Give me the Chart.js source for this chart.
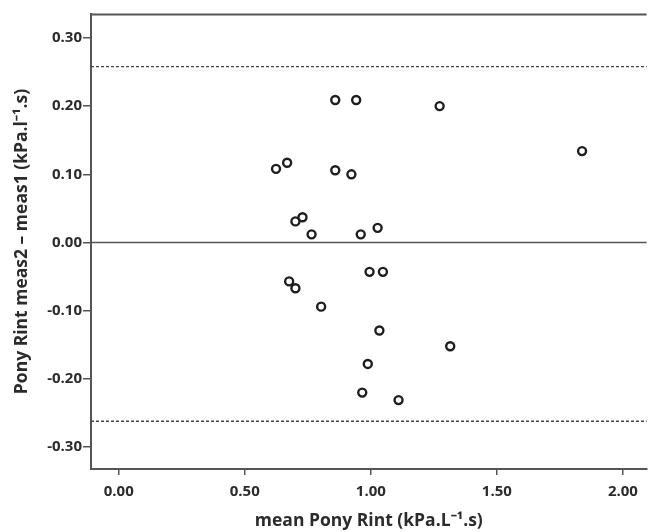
<!DOCTYPE html>
<html>
<head>
<meta charset="utf-8">
<script src="https://cdn.jsdelivr.net/npm/chart.js@4"></script>
<style>
  html, body { margin: 0; padding: 0; background: #fff; }
  #wrap { width: 653px; height: 532px; }
</style>
</head>
<body>
<div id="wrap"><canvas id="blandAltman" width="653" height="532"></canvas></div>
<script>
// Bland-Altman data: mean of the two measurements vs. their difference
const meanRint = [0.859, 0.942, 1.273, 1.838, 0.624, 0.668, 0.859, 0.923, 0.701, 0.729,
                  0.765, 0.960, 1.027, 0.995, 1.048, 0.676, 0.701, 0.803, 1.034, 1.315,
                  0.988, 0.966, 1.110];
const diffRint = [0.209, 0.209, 0.200, 0.134, 0.108, 0.117, 0.106, 0.100, 0.031, 0.037,
                  0.012, 0.012, 0.0215, -0.043, -0.043, -0.057, -0.067, -0.094, -0.129, -0.152,
                  -0.178, -0.220, -0.231];
const xTicks = [0, 0.5, 1.0, 1.5, 2.0];
const yTicks = [-0.3, -0.2, -0.1, 0, 0.1, 0.2, 0.3];
const meanLine = [0];
const limitLines = [0.258, -0.262];

const points = meanRint.map((m, i) => ({ x: m, y: diffRint[i] }));

// Draws the zero line, limits of agreement and the top frame line
const refLines = {
    id: 'refLines',
    beforeDatasetsDraw(chart) {
        const { ctx, chartArea, scales } = chart;
        ctx.save();
        ctx.strokeStyle = '#555';
        ctx.lineWidth = 2;
        ctx.beginPath();
        ctx.moveTo(chartArea.left, chartArea.top + 0.5);
        ctx.lineTo(chartArea.right, chartArea.top + 0.5);
        ctx.stroke();

        ctx.lineWidth = 1.5;
        meanLine.forEach(v => {
            const y = scales.y.getPixelForValue(v);
            ctx.beginPath();
            ctx.moveTo(chartArea.left, y);
            ctx.lineTo(chartArea.right, y);
            ctx.stroke();
        });

        ctx.strokeStyle = '#444';
        ctx.lineWidth = 1.3;
        ctx.setLineDash([3, 2]);
        limitLines.forEach(v => {
            const y = scales.y.getPixelForValue(v);
            ctx.beginPath();
            ctx.moveTo(chartArea.left, y);
            ctx.lineTo(chartArea.right, y);
            ctx.stroke();
        });
        ctx.restore();
    }
};

const tickFont = { family: 'Open Sans', size: 15, weight: 'bold' };
const titleFont = { family: 'Open Sans', size: 17.5, weight: 'bold' };

const ctx = document.getElementById('blandAltman').getContext('2d');
const chart = new Chart(ctx, {
    type: 'scatter',
    data: {
        datasets: [{
            data: points,
            pointStyle: 'circle',
            pointRadius: 4,
            pointHoverRadius: 4,
            pointBorderWidth: 2.4,
            pointBorderColor: '#1e1e1e',
            pointBackgroundColor: '#fff'
        }]
    },
    options: {
        responsive: false,
        animation: false,
        layout: { padding: { top: 14, right: 0, left: 0, bottom: 0 } },
        plugins: {
            legend: { display: false },
            tooltip: { enabled: false }
        },
        scales: {
            x: {
                type: 'linear',
                min: -0.11,
                max: 2.094,
                afterBuildTicks: s => { s.ticks = xTicks.map(v => ({ value: v })); },
                afterFit: s => { s.height = 63; },
                border: { display: true, color: '#555', width: 2 },
                grid: { drawOnChartArea: false, drawTicks: true, tickLength: 6, color: '#555', lineWidth: 1.5 },
                ticks: {
                    font: tickFont,
                    color: '#2b2b2b',
                    padding: 8,
                    maxRotation: 0,
                    callback: v => v.toFixed(2)
                },
                title: {
                    display: true,
                    text: 'mean Pony Rint (kPa.L⁻¹.s)',
                    font: titleFont,
                    color: '#2b2b2b',
                    padding: { top: 0, bottom: 0 }
                }
            },
            y: {
                type: 'linear',
                min: -0.332,
                max: 0.335,
                afterBuildTicks: s => { s.ticks = yTicks.map(v => ({ value: v })); },
                afterFit: s => { s.width = 91; },
                border: { display: true, color: '#555', width: 2 },
                grid: { drawOnChartArea: false, drawTicks: true, tickLength: 8, color: '#555', lineWidth: 1.5 },
                ticks: {
                    font: tickFont,
                    color: '#2b2b2b',
                    padding: 1,
                    callback: v => v.toFixed(2)
                },
                title: {
                    display: true,
                    text: 'Pony Rint meas2 – meas1 (kPa.l⁻¹.s)',
                    font: titleFont,
                    color: '#2b2b2b',
                    padding: { top: 12, bottom: 0 }
                }
            }
        }
    },
    plugins: [refLines]
});
</script>
</body>
</html>
